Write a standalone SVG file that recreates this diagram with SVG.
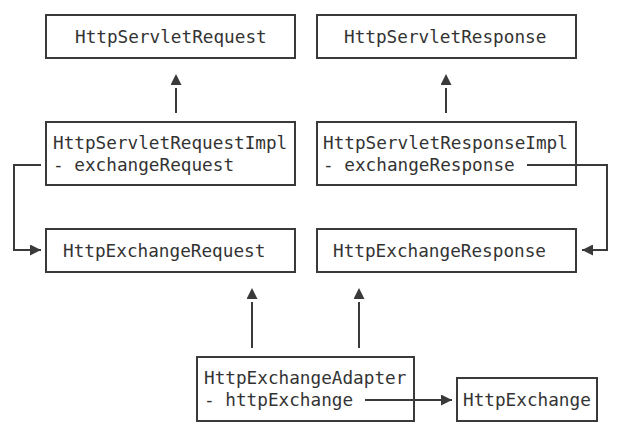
<svg xmlns="http://www.w3.org/2000/svg" width="635" height="433" viewBox="0 0 635 433">
<defs>
<marker id="ah" viewBox="0 0 11 11" refX="11" refY="5.5" markerWidth="11" markerHeight="11" markerUnits="userSpaceOnUse" orient="auto"><path d="M0,0 L11,5.5 L0,11 z" fill="#3a3a3a"/></marker>
<marker id="ahg" viewBox="-3 0 14 11" refX="-3" refY="5.5" markerWidth="14" markerHeight="11" markerUnits="userSpaceOnUse" orient="auto"><path d="M0,0 L11,5.5 L0,11 z" fill="#3a3a3a"/></marker>
</defs>
<style>
rect{fill:#fff;stroke:#3a3a3a;stroke-width:2}
text{font-family:"DejaVu Sans Mono","Liberation Mono",monospace;font-size:17.7px;fill:#333}
.c path{fill:none;stroke:#3a3a3a;stroke-width:2}
</style>
<rect x="0" y="0" width="635" height="433" style="stroke:none"/>
<g id="HttpServletRequest"><rect x="46" y="15" width="249" height="43"/><text x="75" y="43">HttpServletRequest</text></g>
<g id="HttpServletResponse"><rect x="317" y="15" width="259" height="43"/><text x="344" y="43">HttpServletResponse</text></g>
<g id="HttpServletRequestImpl"><rect x="46" y="122" width="249" height="63"/><text x="53" y="149">HttpServletRequestImpl</text><text x="53" y="171">- exchangeRequest</text></g>
<g id="HttpServletResponseImpl"><rect x="317" y="122" width="259" height="63"/><text x="323" y="149">HttpServletResponseImpl</text><text x="323" y="171">- exchangeResponse</text></g>
<g id="HttpExchangeRequest"><rect x="46" y="229" width="249" height="43"/><text x="63" y="257">HttpExchangeRequest</text></g>
<g id="HttpExchangeResponse"><rect x="317" y="229" width="259" height="43"/><text x="333" y="257">HttpExchangeResponse</text></g>
<g id="HttpExchangeAdapter"><rect x="197" y="357" width="217" height="64"/><text x="204" y="384">HttpExchangeAdapter</text><text x="204" y="406">- httpExchange</text></g>
<g id="HttpExchange"><rect x="457" y="378" width="140" height="43"/><text x="463" y="406">HttpExchange</text></g>
<g class="c" id="connectors">
<path d="M176,113 L176,88" marker-end="url(#ahg)"/>
<path d="M446,113 L446,88" marker-end="url(#ahg)"/>
<path d="M41,165 L14,165 L14,250 L41,250" marker-end="url(#ah)"/>
<path d="M527,165 L607,165 L607,250 L582,250" marker-end="url(#ah)"/>
<path d="M252,348 L252,302" marker-end="url(#ahg)"/>
<path d="M359,348 L359,302" marker-end="url(#ahg)"/>
<path d="M365,400 L452,400" marker-end="url(#ah)"/>
</g>
</svg>
